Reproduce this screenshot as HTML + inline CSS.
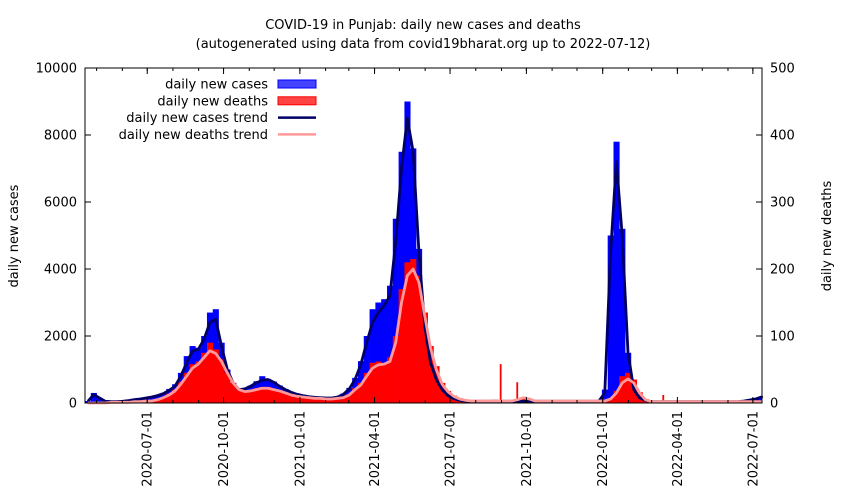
<!DOCTYPE html>
<html><head><meta charset="utf-8"><style>
html,body{margin:0;padding:0;background:#fff}
svg{display:block;font-family:"DejaVu Sans","Liberation Sans",sans-serif}
</style></head><body>
<svg id="chart" width="850" height="500" viewBox="0 0 850 500">
<text x="423" y="29" font-size="13" text-anchor="middle">COVID-19 in Punjab: daily new cases and deaths</text>
<text x="423" y="48" font-size="13" text-anchor="middle">(autogenerated using data from covid19bharat.org up to 2022-07-12)</text>
<text transform="translate(18,236) rotate(-90)" font-size="13" text-anchor="middle">daily new cases</text>
<text transform="translate(831,236) rotate(-90)" font-size="13" text-anchor="middle">daily new deaths</text>
<g id="bars"></g>
<g id="lines"></g>
<g id="axes"></g>
<g id="legend"></g>
</svg>
<script>
// weekly data starting 2020-04-17, one value per 7 days
const startDate = "2020-04-17";
const casesTrend = [50,250,150,50,40,40,50,70,100,120,150,180,220,280,380,500,800,1200,1550,1600,1900,2400,2500,1700,1000,600,400,420,500,600,680,700,620,500,400,320,260,220,190,170,160,150,150,180,260,420,700,1150,1800,2400,2700,2900,3200,4800,7000,8500,7500,4500,2300,1200,700,400,220,130,80,60,50,50,50,50,50,50,50,50,50,50,50,50,50,50,50,50,50,50,50,50,50,50,60,300,4500,7200,5000,1500,400,150,80,40,40,40,40,40,40,40,40,40,40,40,40,40,40,40,40,60,90,120,180,150];
const casesBars = [60,300,150,50,40,40,50,70,100,120,160,200,240,300,420,560,900,1400,1700,1650,2000,2700,2800,1800,1000,600,420,450,520,650,800,720,640,520,420,330,270,230,200,180,170,160,160,190,280,450,750,1250,2000,2800,3000,3100,3500,5500,7500,9000,7600,4600,2300,1200,700,400,220,130,80,60,50,50,50,50,50,50,50,50,50,50,50,50,50,50,50,50,50,50,50,50,50,50,60,400,5000,7800,5200,1500,400,150,80,40,40,40,40,40,40,40,40,40,40,40,40,40,40,40,40,60,90,130,190,160];
const deathsTrend = [0,0,0,0,1,1,1,1,2,2,3,3,5,8,12,18,28,40,52,58,68,78,74,62,45,30,20,17,18,20,22,22,20,18,15,12,10,9,8,7,7,6,6,7,8,12,20,27,40,52,57,58,62,90,150,190,200,180,130,82,50,28,17,10,6,4,3,3,3,3,3,3,3,3,5,8,6,3,3,3,3,3,3,3,3,3,3,3,3,3,6,15,30,36,30,15,5,2,2,2,2,2,2,2,2,2,2,2,2,2,2,2,2,2,2,2,2];
const deathsBars = [0,0,0,0,1,1,1,1,2,2,3,4,6,9,14,20,32,45,58,62,75,90,80,65,45,30,20,18,19,22,24,24,21,19,16,13,11,10,9,8,8,7,7,8,9,13,22,30,45,60,62,60,68,100,170,210,215,190,135,85,55,30,18,11,7,5,4,3,4,3,5,3,4,3,5,8,6,3,3,3,3,3,3,3,3,3,3,3,3,3,7,18,40,45,35,16,6,2,2,2,2,2,2,2,2,2,2,2,2,2,2,2,2,2,2,2,2];
// single-day death spikes
const spikeDates = ["2021-08-31","2021-09-20","2022-03-15"];
const spikeValues = [58,31,12];
const leftTicks = [0,2000,4000,6000,8000,10000];
const rightTicks = [0,100,200,300,400,500];
const xTickLabels = ["2020-07-01","2020-10-01","2021-01-01","2021-04-01","2021-07-01","2021-10-01","2022-01-01","2022-04-01","2022-07-01"];

const NS="http://www.w3.org/2000/svg";
const L=85,R=762,T=68,B=403;
const t0=Date.parse(startDate+"T00:00:00Z");
const pxPerDay=(R-L)/816;
function xDay(d){return L+d*pxPerDay;}
function xDate(s){return xDay((Date.parse(s+"T00:00:00Z")-t0)/86400000);}
function yC(v){return B-v/10000*(B-T);}
function yD(v){return B-v/500*(B-T);}
function mk(tag,attrs,parent){const e=document.createElementNS(NS,tag);for(const k in attrs)e.setAttribute(k,attrs[k]);parent.appendChild(e);return e;}

const bars=document.getElementById('bars');
const lines=document.getElementById('lines');
const axes=document.getElementById('axes');
const legend=document.getElementById('legend');
const w=7*pxPerDay;
casesBars.forEach((v,i)=>{
  const x=xDay(i*7);const y=yC(v);
  const r=mk('rect',{x:x,y:y,width:Math.min(w+0.3,R-x),height:B-y,fill:'#0000ff'},bars);
  
  
});
deathsBars.forEach((v,i)=>{
  const x=xDay(i*7);const y=yD(v);
  const r=mk('rect',{x:x,y:y,width:Math.min(w+0.3,R-x),height:B-y,fill:'#ff0000'},bars);
  
  
});
spikeDates.forEach((s,i)=>{
  const x=xDate(s);const y=yD(spikeValues[i]);
  const r=mk('rect',{x:x-0.9,y:y,width:1.8,height:B-y,fill:'#ff0000'},bars);
  
  
});
function line(arr,yf,color,name){
  const pts=arr.map((v,i)=>[Math.min(R,xDay(i*7+3.5)),yf(v)].join(',')).join(' ');
  const p=mk('polyline',{points:pts,fill:'none',stroke:color,'stroke-width':2.8,'stroke-linejoin':'round'},lines);
  
  
}
line(casesTrend,yC,'#000066','cases-trend-line');
line(deathsTrend,yD,'#ff9999','deaths-trend-line');

const fr=mk('rect',{x:L,y:T,width:R-L,height:B-T,fill:'none',stroke:'#000','stroke-width':1},axes);


leftTicks.forEach(v=>{
  const y=yC(v);
  mk('line',{x1:L,x2:L+6,y1:y,y2:y,stroke:'#000'},axes);
  const t=mk('text',{x:L-8,y:y+4.5,'font-size':13,'text-anchor':'end'},axes);t.textContent=v;
  
  
});
rightTicks.forEach(v=>{
  const y=yD(v);
  mk('line',{x1:R-6,x2:R,y1:y,y2:y,stroke:'#000'},axes);
  const t=mk('text',{x:R+8,y:y+4.5,'font-size':13,'text-anchor':'start'},axes);t.textContent=v;
  
  
});
for(let y=2020;y<=2022;y++)for(let m=1;m<=12;m++){
  const s=y+"-"+String(m).padStart(2,'0')+"-01";
  const x=xDate(s);if(x<L||x>R)continue;
  mk('line',{x1:x,x2:x,y1:B,y2:B-3,stroke:'#000'},axes);
  mk('line',{x1:x,x2:x,y1:T,y2:T+3,stroke:'#000'},axes);
}
xTickLabels.forEach(s=>{
  const x=xDate(s);
  mk('line',{x1:x,x2:x,y1:B,y2:B-6,stroke:'#000'},axes);
  mk('line',{x1:x,x2:x,y1:T,y2:T+6,stroke:'#000'},axes);
  const t=mk('text',{transform:`translate(${x+4.5},${B+8}) rotate(-90)`,'font-size':13,'text-anchor':'end'},axes);t.textContent=s;
  
  
});
const legendLabels=["daily new cases","daily new deaths","daily new cases trend","daily new deaths trend"];
legendLabels.forEach((s,i)=>{
  const y=84+i*16.8;
  const t=mk('text',{x:268,y:y+4.5,'font-size':13,'text-anchor':'end'},legend);t.textContent=s;
  
  
  if(i===0) mk('rect',{x:278,y:y-4,width:38,height:8,fill:'#4444ff',stroke:'#0000ff'},legend);
  else if(i===1) mk('rect',{x:278,y:y-4,width:38,height:8,fill:'#ff4444',stroke:'#ff0000'},legend);
  else mk('line',{x1:278,x2:316,y1:y,y2:y,stroke:i===2?'#000066':'#ff9999','stroke-width':2.5},legend);
});
</script>
</body></html>
